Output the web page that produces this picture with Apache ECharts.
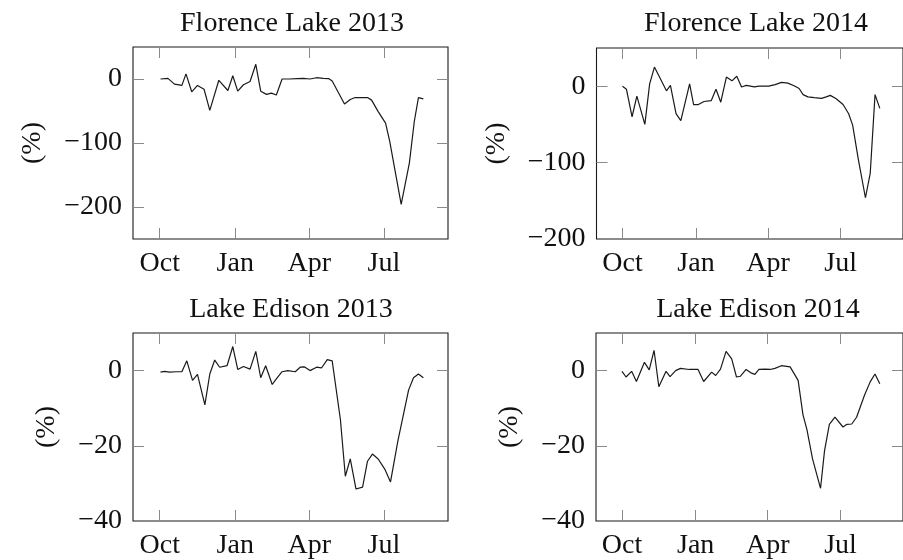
<!DOCTYPE html>
<html>
<head>
<meta charset="utf-8">
<script src="https://cdn.jsdelivr.net/npm/echarts@6/dist/echarts.min.js"></script>
<style>
  html, body { margin: 0; padding: 0; background: #fff; }
  #chart { width: 903px; height: 560px; }
</style>
</head>
<body>
<div id="chart"></div>
<script>
// Acquisition dates are days counted from 1 October; values are storage change in percent.
const florence2013Days = [1, 10, 18, 27, 32, 39, 46, 54, 61, 72, 83, 89, 95, 102, 110, 117, 123, 130, 136, 142, 149,
  158, 167, 175, 183, 191, 199, 206, 210, 225, 232, 238, 253, 258, 266, 275, 280, 294, 304, 310, 315, 321];
const florence2013Change = [0, 1, -8, -10, 8, -20, -10, -16, -49, -2, -18, 5, -19, -9, -4, 23, -19, -24, -22, -25, 0,
  0, 0.5, 1, 0, 2, 1, 0.5, -3, -39, -32, -29, -29, -33, -51, -69, -97, -196, -131, -66, -29, -31];

const florence2014Days = [0, 5, 12, 18, 28, 34, 40, 55, 60, 67, 73, 84, 89, 95, 102, 111, 117, 123, 130, 137, 143, 149,
  155, 165, 171, 183, 191, 199, 207, 216, 221, 226, 232, 240, 249, 255, 260, 267, 276, 283, 288, 295, 304, 310, 316, 322];
const florence2014Change = [0, -4, -40, -13, -50, 3, 25, -6, 1, -36, -45, 3, -24, -24, -20, -19, -4, -21, 12, 7, 13, -1,
  1, -1, 0, 0, 2, 5, 4, 0, -3, -11, -14, -15, -16, -14, -12, -16, -24, -36, -51, -95, -146, -114, -11, -29];

const edison2013Days = [1, 6, 12, 20, 27, 33, 40, 46, 55, 61, 67, 73, 82, 89, 95, 102, 110, 117, 123, 129, 137, 142,
  149, 156, 165, 171, 176, 183, 191, 197, 204, 210, 220, 226, 232, 239, 247, 253, 259, 266, 274, 281, 290, 303, 309, 315, 321];
const edison2013Change = [-0.4, -0.2, -0.4, -0.3, -0.3, 2.6, -2.6, -1, -9.1, -0.9, 2.8, 0.9, 1.3, 6.4, 0.3, 1.1, 0.4, 5.1,
  -1.9, 1.3, -3.7, -2.2, -0.3, 0, -0.3, 0.9, 1, 0, 0.9, 0.7, 2.9, 2.6, -13, -28.1, -23.5, -31.5, -31, -24.1, -22.2, -23.5,
  -26.2, -29.6, -18.7, -5.2, -1.9, -0.9, -1.9];

const edison2014Days = [0, 5, 12, 18, 28, 34, 40, 46, 55, 60, 67, 73, 84, 95, 102, 112, 117, 123, 130, 137, 143, 148,
  155, 161, 166, 171, 179, 185, 191, 199, 210, 220, 226, 231, 238, 248, 253, 259, 266, 276, 281, 287, 293, 303, 310, 316, 322];
const edison2014Change = [-0.2, -1.7, -0.2, -2.9, 2.2, 0.2, 5.4, -4.3, -0.2, -1.6, 0, 0.6, 0.3, 0.3, -2.9, -0.4, -1.3, 0.4,
  5.1, 3.1, -1.7, -1.5, 0.3, -0.6, -1, 0.3, 0.4, 0.3, 0.6, 1.3, 1, -2.6, -11.7, -15.7, -23.5, -31.3, -21.3, -14.3, -12.4,
  -15, -14.3, -14.2, -12.4, -6.5, -3, -0.9, -3.5];

const panelTitles = ['Florence Lake 2013', 'Florence Lake 2014', 'Lake Edison 2013', 'Lake Edison 2014'];
const monthTickDays = [0, 92, 182, 273];
const monthTickLabels = ['Oct', 'Jan', 'Apr', 'Jul'];
const florenceTicks = [-200, -100, 0];
const edisonTicks = [-40, -20, 0];
const yAxisName = '(%)';

const FONT = "'Liberation Serif', 'DejaVu Serif', serif";
const FS = 28;
const X_MIN = -32.5, X_MAX = 351;

// layout of each panel: plot box and y range
const panels = [
  { days: florence2013Days, values: florence2013Change, ticks: florenceTicks, yMin: -250, yMax: 50,
    box: { left: 133, top: 47, width: 315, height: 192 }, titleX: 292, titleY: 10, nameGap: 86 },
  { days: florence2014Days, values: florence2014Change, ticks: florenceTicks, yMin: -200, yMax: 50,
    box: { left: 596.5, top: 48, width: 314, height: 191 }, titleX: 756, titleY: 10, nameGap: 86 },
  { days: edison2013Days, values: edison2013Change, ticks: edisonTicks, yMin: -40, yMax: 10,
    box: { left: 133, top: 333, width: 315, height: 192 }, titleX: 291, titleY: 296, nameGap: 72 },
  { days: edison2014Days, values: edison2014Change, ticks: edisonTicks, yMin: -40, yMax: 10,
    box: { left: 596, top: 333, width: 314, height: 192 }, titleX: 758, titleY: 296, nameGap: 72 }
];

const minusLabel = v => (v < 0 ? '\u2212' + Math.abs(v) : String(v));
const monthLabel = v => monthTickLabels[monthTickDays.indexOf(v)] || '';

const tickStyle = { color: '#8a8a8a', width: 1 };
const labelStyle = { fontFamily: FONT, fontSize: FS, color: '#111' };
const hiddenLine = { show: false, onZero: false };

const grid = [], xAxis = [], yAxis = [], series = [], title = [];

panels.forEach((p, i) => {
  // the plot frame is the grid border; axes only contribute ticks and labels
  grid.push(Object.assign({ show: true, borderColor: '#1a1a1a', borderWidth: 1.1, backgroundColor: 'transparent' }, p.box));
  title.push({
    text: panelTitles[i], left: p.titleX, top: p.titleY, textAlign: 'center', padding: 0,
    textStyle: Object.assign({ fontWeight: 'normal' }, labelStyle)
  });
  ['bottom', 'top'].forEach(pos => {
    xAxis.push({
      type: 'value', gridIndex: i, position: pos, min: X_MIN, max: X_MAX,
      axisLine: hiddenLine,
      axisTick: { show: true, inside: true, length: 11, customValues: monthTickDays, lineStyle: tickStyle },
      axisLabel: pos === 'bottom'
        ? Object.assign({ show: true, customValues: monthTickDays, formatter: monthLabel, margin: 11 }, labelStyle)
        : { show: false },
      splitLine: { show: false }
    });
  });
  ['left', 'right'].forEach(pos => {
    yAxis.push({
      type: 'value', gridIndex: i, position: pos, min: p.yMin, max: p.yMax,
      name: pos === 'left' ? yAxisName : '', nameLocation: 'middle', nameGap: p.nameGap,
      nameTextStyle: labelStyle,
      axisLine: hiddenLine,
      axisTick: { show: true, inside: true, length: 11, customValues: p.ticks, lineStyle: tickStyle },
      axisLabel: pos === 'left'
        ? Object.assign({ show: true, customValues: p.ticks, formatter: minusLabel, margin: 11 }, labelStyle)
        : { show: false },
      splitLine: { show: false }
    });
  });
  series.push({
    type: 'line', xAxisIndex: i * 2, yAxisIndex: i * 2,
    data: p.days.map((d, k) => [d, p.values[k]]),
    showSymbol: false, symbol: 'none', silent: true, animation: false,
    lineStyle: { color: '#1a1a1a', width: 1.2 }
  });
});

const chart = echarts.init(document.getElementById('chart'), null, { renderer: 'canvas' });
chart.setOption({ animation: false, backgroundColor: '#fff', title, grid, xAxis, yAxis, series });
</script>
</body>
</html>
